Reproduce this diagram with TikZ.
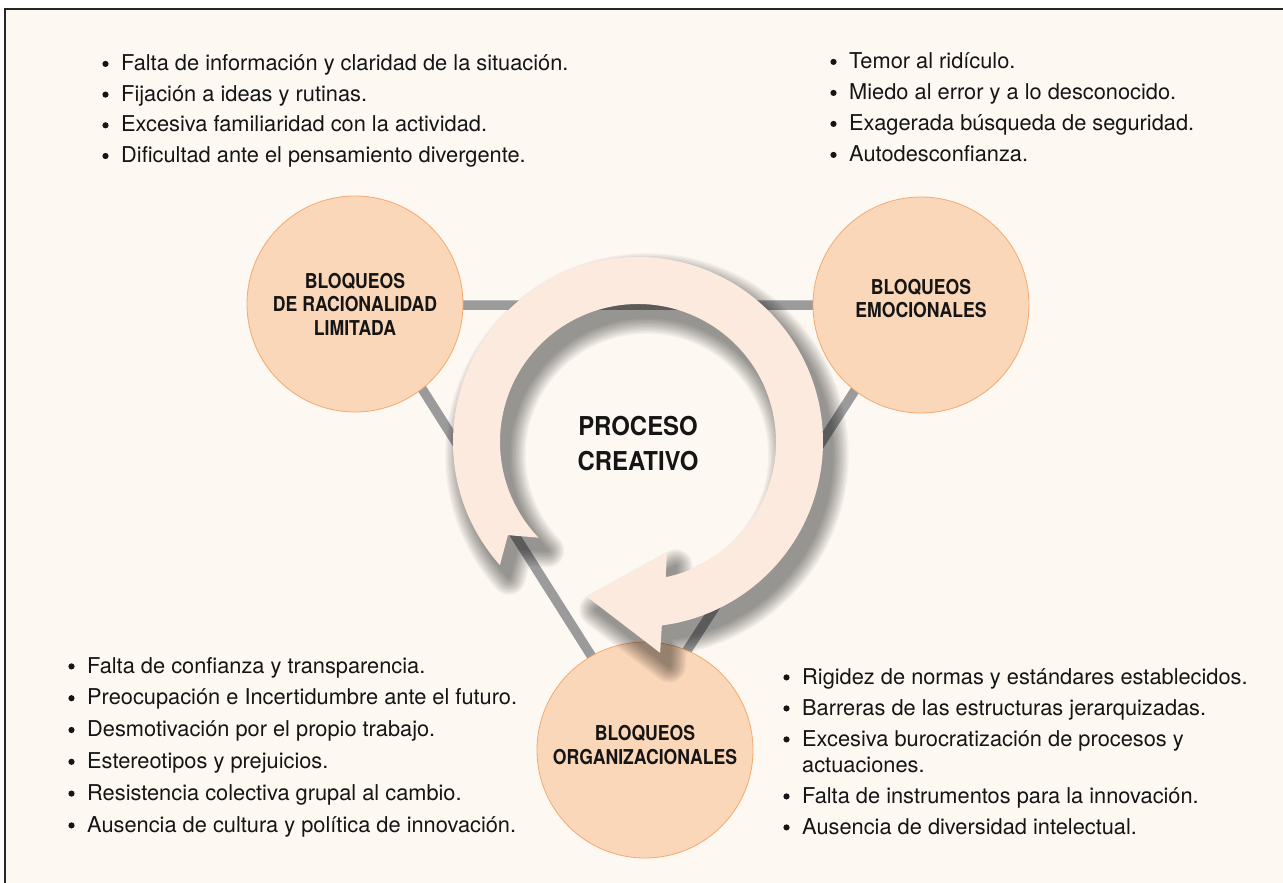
\documentclass[tikz,border=0pt]{standalone}
\usepackage{fontspec}
\setmainfont{TeX Gyre Heros}
\newfontfamily\labfont[FakeStretch=0.86]{TeX Gyre Heros}
\newfontfamily\titfont[FakeStretch=0.92]{TeX Gyre Heros}
\definecolor{bgc}{HTML}{FDF8F2}
\definecolor{circfill}{HTML}{FBD7B9}
\definecolor{circline}{HTML}{F3A971}
\definecolor{ringfill}{HTML}{FDEADF}
\definecolor{linegrey}{HTML}{9B9B9B}
\definecolor{txt}{HTML}{151515}
\newcommand\ringshape{(221.7:185) arc[start angle=221.7, end angle=-82.6, radius=185] -- (-84:212) -- (-108.2:163) -- (-75.4:114.7) -- (-78.4:138) arc[start angle=-78.4, end angle=223.9, radius=138] -- (215.6:160) -- cycle}
\newcommand\blt[4]{\node[btxt] (#1) at (#2,#3) {#4}; \node[bdot] (#1d) at ([xshift=-15.5pt, yshift=6.6pt]#1.base west) {};}
\tikzset{
  blob/.style={circle, minimum size=216pt, inner sep=0pt, fill=circfill, draw=circline, line width=0.8pt},
  blabel/.style={align=center, inner sep=0pt, text=txt, font=\labfont\bfseries\fontsize{20.5}{23.5}\selectfont},
  btxt/.style={anchor=base west, inner sep=0pt, text=txt, font=\fontsize{21.8}{26}\selectfont},
  bdot/.style={circle, fill=txt, inner sep=0pt, minimum size=6.2pt},
  tri/.style={linegrey, line width=9.5pt}
}
\begin{document}
\begin{tikzpicture}[x=1pt, y=-1pt]
\useasboundingbox (0,0) rectangle (1283,883);
\fill[white] (0,0) rectangle (1283,883);
\fill[bgc] (5,9) rectangle (1283,883);
\draw[line width=1.2pt, black!85] (5,883) -- (5,9) -- (1283,9);
% triangle
\coordinate (tA) at (369,305);
\coordinate (tB) at (910,305);
\coordinate (tC) at (637,728);
\draw[tri] (tA) -- (tB) -- (tC) -- cycle;
% circles
\node[blob] (rl) at (355,304) {};
\node[blob] (em) at (921,305) {};
\node[blob] (org) at (645,750) {};
\node[blabel] (rlt) at (355,304) {BLOQUEOS\\DE RACIONALIDAD\\LIMITADA};
\node[blabel] (emt) at (921,298.5) {BLOQUEOS\\EMOCIONALES};
\node[blabel] (orgt) at (645,745) {BLOQUEOS\\ORGANIZACIONALES};
% shadow
\begin{scope}[shift={(647,455)}, yscale=-1]
\foreach \k in {1,...,12} {
  \begin{scope}[transparency group, opacity=0.04]
    \filldraw[black, line width=\k*2.8pt, line join=round] \ringshape;
  \end{scope}
}
\end{scope}
% ring arrow
\begin{scope}[shift={(638,442)}, yscale=-1]
\fill[ringfill] \ringshape;
\end{scope}
\node[align=center, inner sep=0pt, text=txt, font=\titfont\bfseries\fontsize{26}{35}\selectfont] (pc) at (638,444) {PROCESO\\CREATIVO};
% lists
\blt{a1}{121}{70.5}{Falta de información y claridad de la situación.}
\blt{a2}{121}{101.2}{Fijación a ideas y rutinas.}
\blt{a3}{121}{131.9}{Excesiva familiaridad con la actividad.}
\blt{a4}{121}{162.6}{Dificultad ante el pensamiento divergente.}
\blt{b1}{849}{68.5}{Temor al ridículo.}
\blt{b2}{849}{99.5}{Miedo al error y a lo desconocido.}
\blt{b3}{849}{130.5}{Exagerada búsqueda de seguridad.}
\blt{b4}{849}{161.5}{Autodesconfianza.}
\blt{c1}{87}{673}{Falta de confianza y transparencia.}
\blt{c2}{87}{704.8}{Preocupación e Incertidumbre ante el futuro.}
\blt{c3}{87}{736.6}{Desmotivación por el propio trabajo.}
\blt{c4}{87}{768.4}{Estereotipos y prejuicios.}
\blt{c5}{87}{800.2}{Resistencia colectiva grupal al cambio.}
\blt{c6}{87}{832}{Ausencia de cultura y política de innovación.}
\blt{d1}{802}{684}{Rigidez de normas y estándares establecidos.}
\blt{d2}{802}{715}{Barreras de las estructuras jerarquizadas.}
\blt{d3}{802}{746}{Excesiva burocratización de procesos y}
\node[btxt] (d3b) at (802,772) {actuaciones.};
\blt{d4}{802}{803}{Falta de instrumentos para la innovación.}
\blt{d5}{802}{834}{Ausencia de diversidad intelectual.}
\end{tikzpicture}
\end{document}
